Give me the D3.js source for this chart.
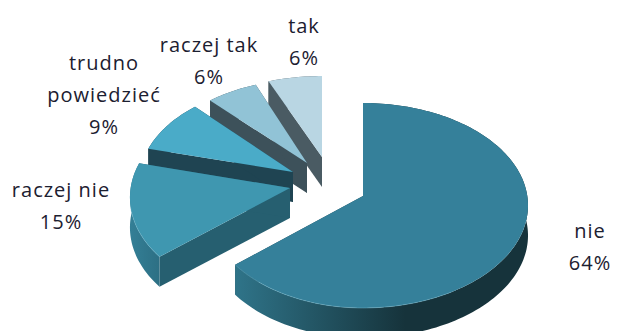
<!DOCTYPE html>
<html>
<head>
<meta charset="utf-8">
<script src="https://cdn.jsdelivr.net/npm/d3@7/dist/d3.min.js"></script>
<style>
  html, body { margin: 0; padding: 0; background: #fff; }
  svg { display: block; }
  text { font-family: "Open Sans", sans-serif; font-size: 20px; letter-spacing: 1px; fill: #1c2030; text-anchor: middle; }
</style>
</head>
<body>
<svg id="chart" width="617" height="331"></svg>
<script>
// Survey answers, drawn clockwise from twelve o'clock
const categories = ["nie", "raczej nie", "trudno powiedzieć", "raczej tak", "tak"];
const shares = [64, 15, 9, 6, 6];

// Drawing styles and exploded-slice layout, one entry per category
const topColors = ["#35809a", "#3f97b0", "#4aabc8", "#91c3d6", "#b9d6e3"];
const cutColors = ["#1d4350", "#265f70", "#1f4452", "#3d515a", "#4a5b63"];
const rimColors = [["#2f7489", "#16333b"], ["#347f96", "#2a6a7e"], ["#1f4452", "#1f4452"], ["#3d515a", "#3d515a"], ["#4a5b63", "#4a5b63"]];
const shiftX = [0, -73, -70, -56, -41];
const shiftY = [0, -8, -24, -33, -39];
const scaleLeft = [0.95, 0.97, 0.93, 0.92, 0.96];
const scaleY = [1, 1, 0.94, 0.9, 0.87];
const labelX = [590, 61, 104, 209, 304];
const labelY = [238, 197, 70, 52, 33];
const labelLines = [["nie"], ["raczej nie"], ["trudno", "powiedzieć"], ["raczej tak"], ["tak"]];

// Tilted-disc projection: the far side shrinks slightly
const cx = 363, cy = 196, rx = 164.3, ry = 101.6, tilt = 0.0926, depth = 30;
function project(angle, i) {
  const u = Math.sin(angle), v = Math.cos(angle), s = 1 / (1 + tilt * v);
  const sx = u < 0 ? scaleLeft[i] : 1;
  return [cx + shiftX[i] + rx * sx * u * s, cy + shiftY[i] - ry * scaleY[i] * v * s];
}

const svg = d3.select("#chart");
const defs = svg.append("defs");
const outline = d3.line();
const arcs = d3.pie().sort(null).value(d => d)(shares);

function arcPoints(d, i) {
  const n = Math.max(8, Math.ceil((d.endAngle - d.startAngle) * 40));
  return d3.range(n + 1).map(k => project(d.startAngle + (d.endAngle - d.startAngle) * k / n, i));
}

// Farthest slices first so nearer ones cover them
d3.range(arcs.length - 1, -1, -1).forEach(i => {
  const d = arcs[i];
  const rim = arcPoints(d, i);
  const apex = [cx + shiftX[i], cy + shiftY[i]];
  const g = svg.append("g");

  const grad = defs.append("linearGradient")
    .attr("id", "rim" + i).attr("gradientUnits", "userSpaceOnUse")
    .attr("x1", d3.min(rim, p => p[0])).attr("x2", d3.min(rim, p => p[0]) + (i === 0 ? 170 : 40))
    .attr("y1", 0).attr("y2", 0);
  grad.append("stop").attr("offset", 0).attr("stop-color", rimColors[i][0]);
  grad.append("stop").attr("offset", 1).attr("stop-color", rimColors[i][1]);

  // Radial cut faces
  [rim[0], rim[rim.length - 1]].forEach(p => {
    g.append("path")
      .attr("d", outline([apex, p, [p[0], p[1] + depth], [apex[0], apex[1] + depth]]) + "Z")
      .attr("fill", cutColors[i]);
  });

  // Curved outer wall
  const wall = rim.concat(rim.map(p => [p[0], p[1] + depth]).reverse());
  g.append("path").attr("d", outline(wall) + "Z").attr("fill", `url(#rim${i})`);

  // Top face
  g.append("path").attr("d", outline([apex].concat(rim)) + "Z").attr("fill", topColors[i]);

  // Faint bevel where the top face meets the near wall
  if (i < 2) {
    const near = rim.filter(p => p[1] > apex[1] + 20 && p[0] < cx + 90);
    g.append("path").attr("d", outline(near)).attr("fill", "none")
      .attr("stroke", "#6fb4c9").attr("stroke-width", 1).attr("stroke-opacity", 0.45);
  }
});

// Category name with the share underneath
const labels = svg.selectAll("text.lbl").data(categories).join("text").attr("class", "lbl");
labels.each(function (_, i) {
  const lines = labelLines[i].concat([shares[i] + "%"]);
  d3.select(this).selectAll("tspan").data(lines).join("tspan")
    .attr("x", labelX[i])
    .attr("y", (_, k) => labelY[i] + k * 32)
    .text(t => t);
});
</script>
</body>
</html>
